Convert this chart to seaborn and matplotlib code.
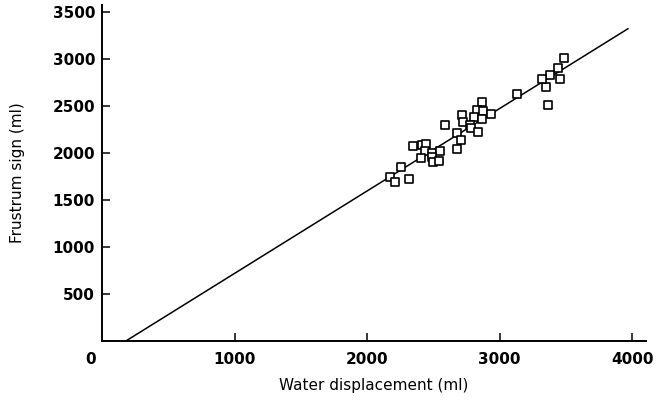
import numpy as np
import pandas as pd
import matplotlib
matplotlib.use("Agg")
import matplotlib.pyplot as plt
import matplotlib.transforms as mtransforms
import seaborn as sns

# water displacement (ml) vs frustrum sign (ml)
water_ml = [3134, 3349, 3364, 3459, 2870, 2832, 2878, 2936, 2717, 2727,
            2810, 2868, 2777, 2783, 2836, 2586, 2677, 2707, 2682, 2349,
            2413, 2445, 2438, 2488, 2551, 2405, 2488, 2496, 2546, 2257,
            2174, 2211, 2319, 3489, 3444, 3381, 3321]
frustrum_ml = [2624, 2699, 2514, 2790, 2539, 2457, 2450, 2412, 2404, 2333,
               2380, 2362, 2298, 2263, 2227, 2298, 2216, 2138, 2043, 2078,
               2085, 2093, 2024, 1997, 2024, 1944, 1954, 1901, 1918, 1848,
               1741, 1695, 1723, 3014, 2901, 2827, 2790]

# fitted line drawn in the figure
fit_slope = 0.877
fit_intercept = -158
fit_x = [180, 3970]

x_ticks = [0, 1000, 2000, 3000, 4000]
y_ticks = [500, 1000, 1500, 2000, 2500, 3000, 3500]

df = pd.DataFrame({"water": water_ml, "frustrum": frustrum_ml})
line_df = pd.DataFrame({"x": fit_x})
line_df["y"] = fit_slope * line_df["x"] + fit_intercept

sns.set_style("ticks")
plt.rcParams["font.family"] = ["DejaVu Sans"]
plt.rcParams["text.color"] = "black"
plt.rcParams["axes.labelcolor"] = "black"
plt.rcParams["xtick.color"] = "black"
plt.rcParams["ytick.color"] = "black"

fig = plt.figure(figsize=(6.68, 4.11), dpi=100)
ax = fig.add_axes([102 / 668, 1 - 341 / 411, 544 / 668, 336 / 411])

sns.lineplot(data=line_df, x="x", y="y", color="black", linewidth=1.1, ax=ax)
sns.scatterplot(data=df, x="water", y="frustrum", marker="s", s=30,
                facecolor="white", edgecolor="black", linewidth=1.2,
                zorder=3, ax=ax)

ax.set_xlim(0, 4105)
ax.set_ylim(0, 3575)
ax.set_xticks(x_ticks)
ax.set_yticks(y_ticks)
ax.set_xticklabels([str(t) for t in x_ticks], fontsize=11, fontweight="bold")
ax.set_yticklabels([str(t) for t in y_ticks], fontsize=11, fontweight="bold")
ax.tick_params(axis="both", direction="in", length=6, width=1.1,
               color="black", labelcolor="black")
ax.tick_params(axis="x", pad=8)
ax.tick_params(axis="y", pad=5)

# the "0" label sits a bit left of the origin
lbl0 = ax.get_xticklabels()[0]
lbl0.set_transform(lbl0.get_transform() +
                   mtransforms.ScaledTranslation(-0.11, 0, fig.dpi_scale_trans))
ax.xaxis.get_major_ticks()[0].tick1line.set_visible(False)

for side in ["top", "right"]:
    ax.spines[side].set_visible(False)
for side in ["left", "bottom"]:
    ax.spines[side].set_linewidth(1.4)
    ax.spines[side].set_color("black")

ax.set_xlabel("Water displacement (ml)", fontsize=11, labelpad=8, color="black")
ax.set_ylabel("Frustrum sign (ml)", fontsize=11, labelpad=20, color="black")

fig.savefig("out.png", dpi=100)
